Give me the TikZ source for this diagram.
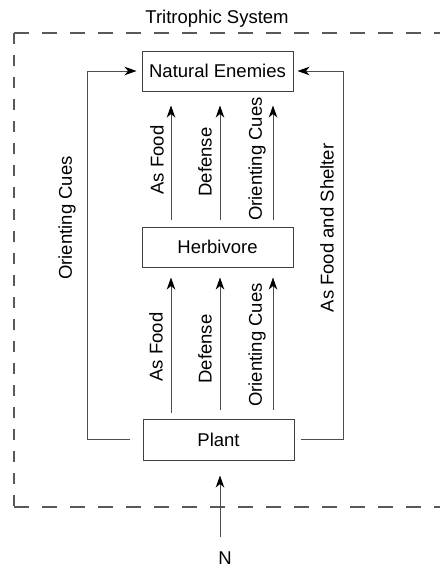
\documentclass[tikz,border=0pt]{standalone}
\usepackage{fontspec}
\setmainfont{Liberation Sans}
\usetikzlibrary{arrows.meta}
\begin{document}
\begin{tikzpicture}[x=1pt,y=-1pt,
  box/.style={draw=black!75, line width=1pt, minimum width=151pt, minimum height=40pt, inner sep=0pt, font=\fontsize{18.5}{22}\selectfont},
  lbl/.style={rotate=90, inner sep=0pt, font=\fontsize{18.5}{22}\selectfont},
  arr/.style={draw=black!70, line width=0.9pt, -{Stealth[length=12pt,width=8.5pt,inset=3.5pt,color=black]}},
  hdash/.style={draw=black!65, line width=1.1pt, dash pattern=on 15pt off 13pt},
  vdash/.style={draw=black!65, line width=1.1pt, dash pattern=on 11pt off 11pt}]
\useasboundingbox (0,0) rectangle (440,568);
% outer dashed system boundary
\coordinate (tl) at (14,33);
\coordinate (bl) at (14,507);
\coordinate (tr) at (440,33);
\coordinate (br) at (440,507);
\draw[hdash] (tl) -- (tr);
\draw[hdash] (bl) -- (br);
\draw[vdash] (tl) -- (bl);
\node[inner sep=0pt, font=\fontsize{18.5}{22}\selectfont] (title) at (217,19) {Tritrophic System};
% boxes
\node[box] (ne) at (217.5,71) {Natural Enemies};
\node[box] (hb) at (217.5,247) {Herbivore};
\node[box, minimum height=41pt] (pl) at (218.5,439.5) {Plant};
% columns
\coordinate (c1) at (171,0);
\coordinate (c2) at (220,0);
\coordinate (c3) at (273,0);
% herbivore -> natural enemies
\draw[arr, shorten <=7pt, shorten >=14pt] (hb.north -| c1) -- (ne.south -| c1);
\draw[arr, shorten <=7pt, shorten >=14pt] (hb.north -| c2) -- (ne.south -| c2);
\draw[arr, shorten <=7pt, shorten >=14pt] (hb.north -| c3) -- (ne.south -| c3);
\node[lbl] (l1) at (157,160) {As Food};
\node[lbl] (l2) at (205,162) {Defense};
\node[lbl] (l3) at (257,159) {Orienting Cues};
% plant -> herbivore
\draw[arr, shorten <=6pt, shorten >=10pt] (pl.north -| c1) -- (hb.south -| c1);
\draw[arr, shorten <=9pt, shorten >=10pt] (pl.north -| c2) -- (hb.south -| c2);
\draw[arr, shorten <=9pt, shorten >=10pt] (pl.north -| c3) -- (hb.south -| c3);
\node[lbl] (l4) at (156,347) {As Food};
\node[lbl] (l5) at (205,349) {Defense};
\node[lbl] (l6) at (257,345) {Orienting Cues};
% side loops
\draw[arr, shorten <=13pt, shorten >=5pt] (pl.west) -- ++(-55,0) |- (ne.west);
\node[lbl] (l7) at (67,218) {Orienting Cues};
\draw[arr, shorten <=6pt, shorten >=4pt] (pl.east) -- ++(49,0) |- (ne.east);
\node[lbl] (l8) at (327,228) {As Food and Shelter};
% nitrogen input
\node[inner sep=0pt, font=\fontsize{18.5}{22}\selectfont] (n) at (225,558) {N};
\coordinate (nstart) at (220,537);
\draw[arr, shorten >=15pt] (nstart) -- (nstart |- pl.south);
\end{tikzpicture}
\end{document}
